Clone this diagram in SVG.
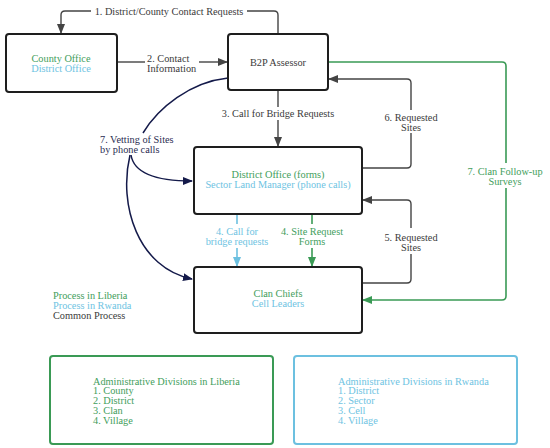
<svg xmlns="http://www.w3.org/2000/svg" width="550" height="448" viewBox="0 0 550 448">
<style>
text{font-family:"Liberation Serif","Times New Roman",serif;font-size:10.3px}
.c{text-anchor:middle}
.k{fill:#3a3a3a}
.g{fill:#3f9e5c}
.b{fill:#6ec3e2}
.n{fill:#2a2d52}
.box{fill:#fff;stroke:#1e1e1e;stroke-width:2}
.gl{fill:none;stroke:#3a9a55;stroke-width:1.6}
.bl{fill:none;stroke:#6cc0e0;stroke-width:1.6}
.dl{fill:none;stroke:#444;stroke-width:1.4}
.nl{fill:none;stroke:#141a4a;stroke-width:1.5}
</style>
<defs>
<marker id="ad" viewBox="0 0 10 8" refX="9" refY="4" markerWidth="10" markerHeight="8" markerUnits="userSpaceOnUse" orient="auto"><path d="M0,0L10,4L0,8z" fill="#444"/></marker>
<marker id="ag" viewBox="0 0 10 8" refX="9" refY="4" markerWidth="10" markerHeight="8" markerUnits="userSpaceOnUse" orient="auto"><path d="M0,0L10,4L0,8z" fill="#3a9a55"/></marker>
<marker id="ab" viewBox="0 0 10 8" refX="9" refY="4" markerWidth="10" markerHeight="8" markerUnits="userSpaceOnUse" orient="auto"><path d="M0,0L10,4L0,8z" fill="#6cc0e0"/></marker>
<marker id="an" viewBox="0 0 10 8" refX="9" refY="4" markerWidth="10" markerHeight="8" markerUnits="userSpaceOnUse" orient="auto"><path d="M0,0L10,4L0,8z" fill="#141a4a"/></marker>
</defs>
<g id="connectors">
<path class="dl" d="M278,34V15Q278,11 274,11H247"/>
<path class="dl" d="M91,11H65Q61,11 61,15V33" marker-end="url(#ad)"/>
<path class="dl" d="M117,62H145"/>
<path class="dl" d="M199,62H227" marker-end="url(#ad)"/>
<path class="dl" d="M278,90V107"/>
<path class="dl" d="M278,120V146" marker-end="url(#ad)"/>
<path class="dl" d="M362,168H407Q411,168 411,164V133"/>
<path class="dl" d="M411,110V83Q411,79 407,79H329" marker-end="url(#ad)"/>
<path class="dl" d="M362,283H407Q411,283 411,279V254"/>
<path class="dl" d="M411,228V204Q411,200 407,200H363" marker-end="url(#ad)"/>
<path class="gl" d="M328,62H502Q506,62 506,66V163"/>
<path class="gl" d="M506,188V296Q506,300 502,300H363" marker-end="url(#ag)"/>
<path class="bl" d="M237,214V224"/>
<path class="bl" d="M237,248V266" marker-end="url(#ab)"/>
<path class="gl" d="M312,214V224"/>
<path class="gl" d="M312,248V266" marker-end="url(#ag)"/>
<path class="nl" d="M228,78C190,82 158,108 143,133"/>
<path class="nl" d="M131,155C134,174 158,181 192,181" marker-end="url(#an)"/>
<path class="nl" d="M130,155C118,205 138,268 192,279" marker-end="url(#an)"/>
</g>
<g id="county-office">
<rect class="box" x="6" y="34" width="111" height="58" rx="3"/>
<text class="c g" x="61" y="61.5">County Office</text>
<text class="c b" x="61" y="71.5">District Office</text>
</g>
<g id="b2p-assessor">
<rect class="box" x="228" y="34" width="100" height="56" rx="3"/>
<text class="c k" x="278" y="65.5">B2P Assessor</text>
</g>
<g id="district-office">
<rect class="box" x="194" y="147" width="168" height="67" rx="3"/>
<text class="c g" x="278" y="177.5">District Office (forms)</text>
<text class="c b" x="278" y="187.5">Sector Land Manager (phone calls)</text>
</g>
<g id="clan-chiefs">
<rect class="box" x="194" y="267" width="168" height="66" rx="3"/>
<text class="c g" x="278" y="296.5">Clan Chiefs</text>
<text class="c b" x="278" y="306.5">Cell Leaders</text>
</g>
<g id="labels">
<text class="c k" x="169" y="14.5">1. District/County Contact Requests</text>
<text class="k" x="147" y="61.5">2. Contact</text>
<text class="k" x="147" y="71.5">Information</text>
<text class="c k" x="278" y="117">3. Call for Bridge Requests</text>
<text class="c k" x="411" y="120.5">6. Requested</text>
<text class="c k" x="411" y="130.5">Sites</text>
<text class="c k" x="411" y="240.5">5. Requested</text>
<text class="c k" x="411" y="250.5">Sites</text>
<text class="c g" x="505" y="174.5">7. Clan Follow-up</text>
<text class="c g" x="505" y="184.5">Surveys</text>
<text class="c b" x="237" y="234.5">4. Call for</text>
<text class="c b" x="237" y="244.5">bridge requests</text>
<text class="c g" x="312" y="234.5">4. Site Request</text>
<text class="c g" x="312" y="244.5">Forms</text>
<text class="n" x="100" y="142.5">7. Vetting of Sites</text>
<text class="n" x="100" y="152.5">by phone calls</text>
</g>
<g id="legend">
<text class="g" x="53" y="298.5">Process in Liberia</text>
<text class="b" x="53" y="308.5">Process in Rwanda</text>
<text class="k" x="53" y="318.5">Common Process</text>
</g>
<g id="liberia-divisions">
<rect x="50" y="356" width="223" height="88" rx="3" fill="#fff" stroke="#3a9a55" stroke-width="2"/>
<text class="g" x="93" y="384.5">Administrative Divisions in Liberia</text>
<text class="g" x="93" y="394.3">1. County</text>
<text class="g" x="93" y="404.1">2. District</text>
<text class="g" x="93" y="413.9">3. Clan</text>
<text class="g" x="93" y="423.7">4. Village</text>
</g>
<g id="rwanda-divisions">
<rect x="294" y="356" width="223" height="88" rx="3" fill="#fff" stroke="#6cc0e0" stroke-width="2"/>
<text class="b" x="338" y="384.5">Administrative Divisions in Rwanda</text>
<text class="b" x="338" y="394.3">1. District</text>
<text class="b" x="338" y="404.1">2. Sector</text>
<text class="b" x="338" y="413.9">3. Cell</text>
<text class="b" x="338" y="423.7">4. Village</text>
</g>
</svg>
